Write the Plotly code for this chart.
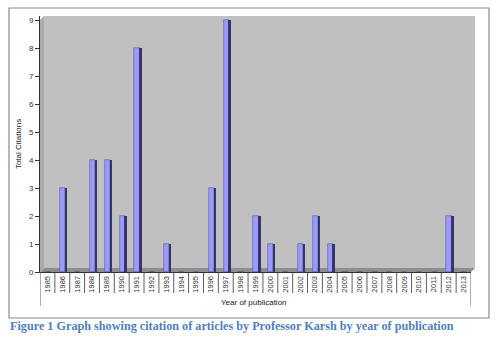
import plotly.graph_objects as go

years = [str(y) for y in range(1985, 2014)]
citations = [0, 3, 0, 4, 4, 2, 8, 0, 1, 0, 0, 3, 9, 0, 2, 1, 0, 1, 2, 1, 0, 0, 0, 0, 0, 0, 0, 2, 0]
y_ticks = list(range(0, 10))

title_x = "Year of publication"
title_y = "Total Citations"
caption = "Figure 1 Graph showing citation of articles by Professor Karsh by year of publication"

W, H = 500, 347
L, R, T, B = 40, 471, 16, 272


def px(x):
    return (x - L) / (R - L)


def py(y):
    return (B - y) / (B - T)


def path(pts):
    return "M " + " L ".join(f"{px(a):.5f},{py(b):.5f}" for a, b in pts) + " Z"


fig = go.Figure()
fig.add_trace(go.Bar(x=years, y=citations, width=0.36, offset=-0.15,
                     marker=dict(color="#9a9aff", line=dict(color="#5a5a9a", width=0.6)),
                     hoverinfo="x+y", showlegend=False))
fig.add_trace(go.Bar(x=years, y=citations, width=0.13, offset=0.21,
                     marker=dict(color="#34346e", line=dict(width=0)),
                     hoverinfo="skip", showlegend=False))

shapes = []
# back wall, left wall, floor
shapes.append(dict(type="path", xref="paper", yref="paper", layer="below",
                   path=path([(44, 16), (475, 16), (475, 268), (44, 268)]),
                   fillcolor="#c0c0c0", line=dict(width=0)))
shapes.append(dict(type="path", xref="paper", yref="paper", layer="below",
                   path=path([(40, 272), (40, 20), (44, 16), (44, 268)]),
                   fillcolor="#ababab", line=dict(width=0)))
shapes.append(dict(type="path", xref="paper", yref="paper", layer="below",
                   path=path([(40, 272), (44, 268), (475, 268), (471, 272)]),
                   fillcolor="#8e8e8e", line=dict(width=0)))
# category separators under axis
for i in range(len(years) + 1):
    bottom = 306 if i in (0, len(years)) else 293
    shapes.append(dict(type="line", xref="x", yref="paper",
                       x0=i - 0.5, x1=i - 0.5, y0=py(272), y1=py(bottom),
                       line=dict(color="#333333", width=0.8)))
# outer frame
shapes.append(dict(type="rect", xref="paper", yref="paper",
                   x0=px(9), x1=px(489), y0=py(318), y1=py(8),
                   line=dict(color="#8a8a8a", width=1.2), fillcolor="rgba(0,0,0,0)"))

annotations = [
    dict(text=title_x, xref="paper", yref="paper", x=px(254), y=py(302),
         showarrow=False, font=dict(family="Liberation Sans, Arial", size=8, color="#222222"),
         xanchor="center", yanchor="middle"),
    dict(text="<b>" + caption + "</b>", xref="paper", yref="paper", x=px(8), y=py(326),
         showarrow=False, font=dict(family="Liberation Serif, serif", size=12.2, color="#4f7fc0"),
         xanchor="left", yanchor="middle"),
]

fig.update_layout(
    width=W, height=H, autosize=False,
    margin=dict(l=L, r=W - R, t=T, b=H - B),
    paper_bgcolor="white", plot_bgcolor="rgba(0,0,0,0)",
    barmode="overlay", bargap=0,
    shapes=shapes, annotations=annotations,
    font=dict(family="Liberation Sans, Arial", size=8, color="#222222"),
    xaxis=dict(type="category", categoryorder="array", categoryarray=years,
               range=[-0.5, len(years) - 0.5], tickangle=-90,
               tickfont=dict(size=7.5, color="#333333"), showline=True, linecolor="#333333", linewidth=1,
               ticks="", showgrid=False, zeroline=False, fixedrange=True),
    yaxis=dict(range=[0, 9.15], tickvals=y_ticks, ticks="outside", ticklen=4,
               tickcolor="#333333", showline=True, linecolor="#333333", linewidth=1,
               showgrid=False, zeroline=False, tickfont=dict(size=8, color="#333333"),
               title=dict(text=title_y, font=dict(size=8), standoff=6), fixedrange=True),
)

fig.write_html("out.html")
